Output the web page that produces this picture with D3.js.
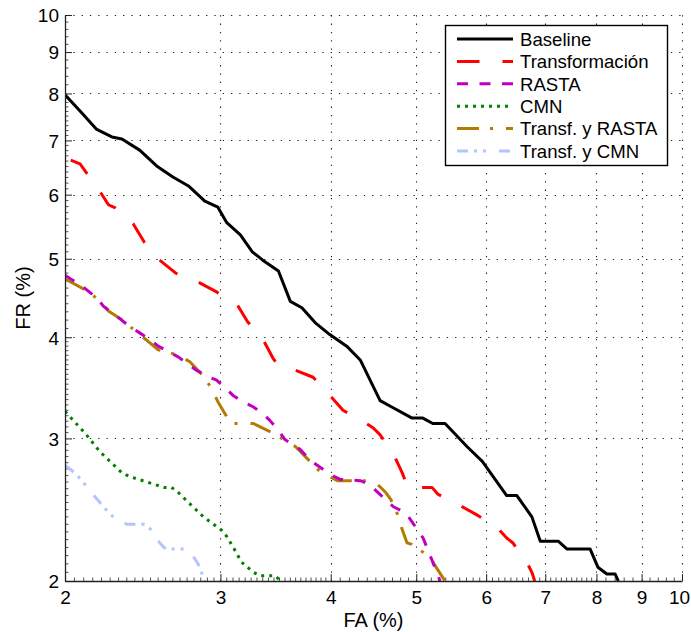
<!DOCTYPE html>
<html>
<head>
<meta charset="utf-8">
<script src="https://d3js.org/d3.v7.min.js"></script>
<style>
  body { margin: 0; background: #fff; }
  svg { display: block; font-family: "Liberation Sans", Arial, sans-serif; }
</style>
</head>
<body>
<div id="chart"></div>
<script>
// tick values (both axes are log, 2..10 %)
var majorTicks = [2, 3, 4, 5, 6, 7, 8, 9, 10]

// series, [FA %, FR %]
var baselineData = [[2.00,7.97],[2.09,7.57],[2.17,7.23],[2.26,7.07],[2.32,7.03],[2.43,6.81],[2.54,6.51],[2.65,6.31],[2.76,6.15],[2.88,5.89],[2.98,5.79],[3.05,5.54],[3.16,5.35],[3.26,5.10],[3.35,4.98],[3.49,4.83],[3.60,4.43],[3.71,4.35],[3.84,4.17],[3.99,4.03],[4.17,3.90],[4.32,3.75],[4.55,3.34],[4.69,3.28],[4.94,3.18],[5.08,3.18],[5.22,3.13],[5.39,3.13],[5.71,2.93],[5.94,2.81],[6.33,2.55],[6.50,2.55],[6.76,2.40],[6.91,2.24],[7.24,2.24],[7.41,2.19],[7.87,2.19],[8.03,2.08],[8.22,2.04],[8.40,2.04],[8.47,2.00]]
var transfData = [[2.03,6.62],[2.08,6.55],[2.12,6.36],[2.20,6.01],[2.24,5.83],[2.28,5.78],[2.39,5.52],[2.46,5.24],[2.56,4.98],[2.67,4.80],[2.83,4.68],[2.97,4.55],[3.13,4.40],[3.22,4.18],[3.35,3.98],[3.44,3.77],[3.49,3.69],[3.63,3.65],[3.82,3.57],[3.99,3.39],[4.05,3.33],[4.13,3.25],[4.35,3.15],[4.47,3.09],[4.55,3.03],[4.71,2.87],[4.82,2.72],[4.89,2.61],[5.21,2.61],[5.29,2.56],[5.60,2.48],[5.87,2.41],[6.17,2.33],[6.33,2.26],[6.43,2.23],[6.67,2.11],[6.76,2.05],[6.81,2.00]]
var rastaData = [[2.00,4.77],[2.03,4.72],[2.08,4.65],[2.12,4.57],[2.18,4.46],[2.21,4.37],[2.28,4.26],[2.37,4.12],[2.43,4.05],[2.50,3.97],[2.55,3.90],[2.62,3.84],[2.69,3.78],[2.76,3.70],[2.82,3.64],[2.90,3.58],[2.97,3.54],[3.05,3.45],[3.10,3.39],[3.18,3.33],[3.27,3.28],[3.35,3.22],[3.41,3.16],[3.49,3.07],[3.55,2.99],[3.69,2.91],[3.79,2.82],[3.88,2.77],[3.99,2.71],[4.10,2.67],[4.32,2.66],[4.43,2.63],[4.51,2.58],[4.71,2.47],[4.86,2.43],[4.94,2.37],[5.09,2.26],[5.22,2.11],[5.32,2.00]]
var cmnData = [[2.00,3.24],[2.11,3.04],[2.19,2.89],[2.32,2.72],[2.37,2.69],[2.45,2.66],[2.59,2.61],[2.64,2.61],[2.68,2.58],[2.76,2.50],[2.87,2.40],[3.01,2.31],[3.05,2.27],[3.11,2.19],[3.17,2.11],[3.27,2.05],[3.33,2.03],[3.46,2.03],[3.51,2.00]]
var transfRastaData = [[2.00,4.72],[2.03,4.68],[2.13,4.55],[2.19,4.43],[2.24,4.31],[2.33,4.19],[2.41,4.06],[2.48,3.96],[2.55,3.86],[2.60,3.84],[2.69,3.80],[2.77,3.73],[2.87,3.58],[2.93,3.46],[2.98,3.33],[3.06,3.17],[3.11,3.13],[3.27,3.13],[3.43,3.05],[3.54,2.99],[3.65,2.93],[3.79,2.81],[3.89,2.73],[4.02,2.68],[4.07,2.66],[4.39,2.66],[4.54,2.62],[4.62,2.57],[4.68,2.52],[4.76,2.42],[4.81,2.33],[4.88,2.23],[4.94,2.22],[5.09,2.17],[5.22,2.11],[5.39,2.00]]
var transfCmnData = [[2.00,2.78],[2.06,2.71],[2.12,2.61],[2.17,2.53],[2.24,2.43],[2.28,2.39],[2.35,2.35],[2.46,2.35],[2.51,2.31],[2.56,2.23],[2.60,2.19],[2.74,2.19],[2.79,2.15],[2.83,2.10],[2.88,2.00]]

var seriesNames = ["Baseline", "Transformación", "RASTA", "CMN", "Transf. y RASTA", "Transf. y CMN"]

var series = [
    {name: seriesNames[0], data: baselineData,    color: "#000000", dash: null},
    {name: seriesNames[1], data: transfData,      color: "#ff0000", dash: "22.5,23"},
    {name: seriesNames[2], data: rastaData,       color: "#c000c0", dash: "11,11.5"},
    {name: seriesNames[3], data: cmnData,         color: "#008000", dash: "3,5"},
    {name: seriesNames[4], data: transfRastaData, color: "#b07d00", dash: "22,11,3,13"},
    {name: seriesNames[5], data: transfCmnData,   color: "#b3c4ff", dash: "11,6,3,6,3,13"}
]

var width = 691, height = 632
var plotLeft = 65, plotRight = 682, plotTop = 15, plotBottom = 581

var svg = d3.select("#chart").append("svg")
    .attr("width", width)
    .attr("height", height)

var x = d3.scaleLog().domain([2, 10]).range([plotLeft, plotRight])
var y = d3.scaleLog().domain([2, 10]).range([plotBottom, plotTop])

// minor ticks, finer near the low end so spacing looks even
var minorTicks = d3.range(2, 4, 0.05).concat(d3.range(4, 8, 0.1), d3.range(8, 10, 0.2))
    .map(function(v) { return +v.toFixed(2) })
    .filter(function(v) { return majorTicks.indexOf(v) < 0 })

//grid (dotted), the one at 10 makes the top/right border
var grid = svg.append("g")
    .attr("stroke", "#222")
    .attr("stroke-width", 1.1)
    .attr("stroke-dasharray", "1.3,7")

grid.selectAll(".gx")
    .data(majorTicks.slice(1))
    .enter()
    .append("line")
    .attr("x1", function(d) { return Math.round(x(d)) + 0.5 })
    .attr("x2", function(d) { return Math.round(x(d)) + 0.5 })
    .attr("y1", plotBottom)
    .attr("y2", plotTop)

grid.selectAll(".gy")
    .data(majorTicks.slice(1))
    .enter()
    .append("line")
    .attr("y1", function(d) { return Math.round(y(d)) + 0.5 })
    .attr("y2", function(d) { return Math.round(y(d)) + 0.5 })
    .attr("x1", plotLeft)
    .attr("x2", plotRight)

// minor ticks along the two axes
var minor = svg.append("g").attr("stroke", "#555").attr("stroke-width", 1)
minor.selectAll(".mx")
    .data(minorTicks)
    .enter()
    .append("line")
    .attr("x1", function(d) { return x(d) })
    .attr("x2", function(d) { return x(d) })
    .attr("y1", plotBottom)
    .attr("y2", plotBottom - 3.5)
minor.selectAll(".my")
    .data(minorTicks)
    .enter()
    .append("line")
    .attr("y1", function(d) { return y(d) })
    .attr("y2", function(d) { return y(d) })
    .attr("x1", plotLeft)
    .attr("x2", plotLeft + 3.5)

// curves
svg.append("clipPath")
    .attr("id", "plotClip")
    .append("rect")
    .attr("x", plotLeft)
    .attr("y", plotTop)
    .attr("width", plotRight - plotLeft)
    .attr("height", plotBottom - plotTop + 2)

var line = d3.line()
    .x(function(d) { return x(d[0]) })
    .y(function(d) { return y(d[1]) })

svg.append("g")
    .attr("clip-path", "url(#plotClip)")
    .selectAll("path")
    .data(series.slice().reverse())
    .enter()
    .append("path")
    .attr("d", function(d) { return line(d.data) })
    .attr("fill", "none")
    .attr("stroke", function(d) { return d.color })
    .attr("stroke-width", 3)
    .attr("stroke-linejoin", "round")
    .attr("stroke-dasharray", function(d) { return d.dash })

// axes
var xAxis = d3.axisBottom(x)
    .tickValues(majorTicks)
    .tickFormat(d3.format("d"))
    .tickSizeInner(-7)
    .tickSizeOuter(0)
    .tickPadding(10)

var yAxis = d3.axisLeft(y)
    .tickValues(majorTicks)
    .tickFormat(d3.format("d"))
    .tickSizeInner(-7)
    .tickSizeOuter(0)
    .tickPadding(6)

var gx = svg.append("g")
    .attr("transform", "translate(0," + plotBottom + ")")
    .call(xAxis)
var gy = svg.append("g")
    .attr("transform", "translate(" + plotLeft + ",0)")
    .call(yAxis)

svg.selectAll(".domain").attr("stroke", "#222").attr("stroke-width", 1.3)
svg.selectAll(".tick line").attr("stroke", "#222")
svg.selectAll(".tick text")
    .attr("font-size", 19)
    .attr("font-family", "Liberation Sans, Arial, sans-serif")
    .attr("fill", "#000")
gy.selectAll(".tick text").attr("dy", "0.36em")
// last x label sits at the window edge
gx.selectAll(".tick text").filter(function(d) { return d === 10 }).attr("x", -3)

// axis titles
svg.append("text")
    .attr("x", (plotLeft + plotRight) / 2)
    .attr("y", 627)
    .attr("text-anchor", "middle")
    .attr("font-size", 20)
    .text("FA (%)")

svg.append("text")
    .attr("transform", "translate(30," + ((plotTop + plotBottom) / 2) + ") rotate(-90)")
    .attr("text-anchor", "middle")
    .attr("font-size", 20)
    .text("FR (%)")

//legend
var legend = svg.append("g").attr("transform", "translate(445,25)")

legend.append("rect")
    .attr("x", 0.5)
    .attr("y", 0.5)
    .attr("width", 222)
    .attr("height", 140)
    .attr("fill", "#fff")
    .attr("stroke", "#000")
    .attr("stroke-width", 1.4)

var items = legend.selectAll(".item")
    .data(series)
    .enter()
    .append("g")
    .attr("transform", function(d, i) { return "translate(0," + (14 + i * 22.4) + ")" })

items.append("line")
    .attr("x1", 12)
    .attr("x2", 68)
    .attr("y1", 0)
    .attr("y2", 0)
    .attr("stroke", function(d) { return d.color })
    .attr("stroke-width", 3)
    .attr("stroke-dasharray", function(d) { return d.dash })

items.append("text")
    .attr("x", 75)
    .attr("y", 0)
    .attr("dy", "0.36em")
    .attr("font-size", 18.6)
    .text(function(d) { return d.name })
</script>
</body>
</html>
